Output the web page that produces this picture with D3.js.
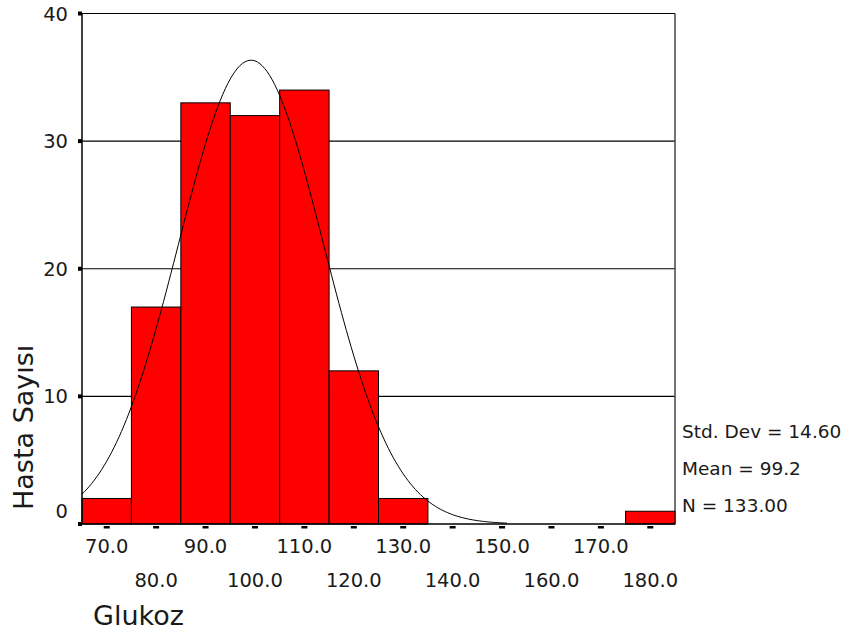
<!DOCTYPE html>
<html>
<head>
  <meta charset="utf-8">
  <script src="https://d3js.org/d3.v7.min.js"></script>
  <style type="text/css">
    body { margin: 0; background: #fff; }
    text { font-family: "DejaVu Sans", sans-serif; fill: #1a1a1a; }
  </style>
</head>
<body>
  <div id="chart"></div>
  <script type="text/javascript">
    // bin centres (width 10) and patient counts
    var binCenters = [70, 80, 90, 100, 110, 120, 130, 140, 150, 160, 170, 180];
    var counts = [2, 17, 33, 32, 34, 12, 2, 0, 0, 0, 0, 1];
    var yTicks = [0, 10, 20, 30, 40];
    var xTickLabels = ['70.0', '80.0', '90.0', '100.0', '110.0', '120.0',
                       '130.0', '140.0', '150.0', '160.0', '170.0', '180.0'];
    var statLines = ['Std. Dev = 14.60', 'Mean = 99.2', 'N = 133.00'];
    var mean = 99.2, sd = 14.6, n = 133, binWidth = 10;

    var width = 846, height = 632;
    var plotLeft = 82, plotRight = 675, plotTop = 13.5, plotBottom = 524;

    var svg = d3.select('#chart').append('svg')
        .attr('width', width)
        .attr('height', height);

    var x = d3.scaleLinear().domain([65, 185]).range([plotLeft, plotRight]);
    var y = d3.scaleLinear().domain([0, 40]).range([plotBottom, plotTop]);

    // gridlines
    svg.selectAll('.grid')
        .data(yTicks.filter(function(d) { return d > 0; }))
        .enter().append('line')
        .attr('x1', plotLeft).attr('x2', plotRight)
        .attr('y1', function(d) { return y(d); })
        .attr('y2', function(d) { return y(d); })
        .attr('stroke', '#000')
        .attr('stroke-width', 1.2);

    // right frame
    svg.append('line')
        .attr('x1', plotRight).attr('x2', plotRight)
        .attr('y1', plotTop).attr('y2', plotBottom)
        .attr('stroke', '#444').attr('stroke-width', 1.5);

    // bars
    svg.selectAll('.bar')
        .data(binCenters.map(function(c, i) { return {c: c, v: counts[i]}; })
          .filter(function(d) { return d.v > 0; }))
        .enter().append('rect')
        .attr('x', function(d) { return x(d.c - binWidth / 2); })
        .attr('width', function(d) { return x(d.c + binWidth / 2) - x(d.c - binWidth / 2); })
        .attr('y', function(d) { return y(d.v); })
        .attr('height', function(d) { return y(0) - y(d.v); })
        .attr('fill', '#ff0000')
        .attr('stroke', '#000')
        .attr('stroke-width', 1);

    // normal curve from the shown mean / sd / N
    var curvePts = d3.range(65, 151.01, 0.5).map(function(v) {
      var z = (v - mean) / sd;
      return [v, n * binWidth * Math.exp(-0.5 * z * z) / (sd * Math.sqrt(2 * Math.PI))];
    });
    svg.append('path')
        .datum(curvePts)
        .attr('fill', 'none')
        .attr('stroke', '#000')
        .attr('stroke-width', 1)
        .attr('d', d3.line()
          .x(function(d) { return x(d[0]); })
          .y(function(d) { return y(d[1]); }));

    // axes lines
    svg.append('line')
        .attr('x1', plotLeft).attr('x2', plotLeft)
        .attr('y1', plotTop).attr('y2', plotBottom)
        .attr('stroke', '#000').attr('stroke-width', 1.5);
    svg.append('line')
        .attr('x1', plotLeft).attr('x2', plotRight)
        .attr('y1', plotBottom).attr('y2', plotBottom)
        .attr('stroke', '#000').attr('stroke-width', 1.5);

    // y ticks (square markers) and labels
    svg.selectAll('.ytick')
        .data(yTicks)
        .enter().append('rect')
        .attr('x', plotLeft - 4).attr('width', 4)
        .attr('y', function(d) { return y(d) - 2; }).attr('height', 4)
        .attr('fill', '#000');
    svg.selectAll('.ylab')
        .data(yTicks)
        .enter().append('text')
        .attr('x', 68)
        .attr('y', function(d) { return d === 0 ? y(d) - 6 : y(d) + 7; })
        .attr('text-anchor', 'end')
        .style('font-size', '19.5px')
        .text(function(d) { return d; });

    // x ticks (small dashes) and staggered labels
    svg.selectAll('.xtick')
        .data(binCenters)
        .enter().append('rect')
        .attr('x', function(d) { return x(d) - 3; }).attr('width', 6)
        .attr('y', plotBottom + 2).attr('height', 2.5)
        .attr('fill', '#000');
    svg.selectAll('.xlab')
        .data(binCenters)
        .enter().append('text')
        .attr('x', function(d) { return x(d); })
        .attr('y', function(d, i) { return i % 2 === 0 ? 553 : 587; })
        .attr('text-anchor', 'middle')
        .style('font-size', '19.5px')
        .text(function(d, i) { return xTickLabels[i]; });

    // stats
    svg.selectAll('.stat')
        .data(statLines)
        .enter().append('text')
        .attr('x', 682)
        .attr('y', function(d, i) { return 438 + i * 37; })
        .style('font-size', '18.5px')
        .text(function(d) { return d; });

    // axis titles
    svg.append('text')
        .attr('x', 93).attr('y', 625)
        .style('font-size', '27px')
        .text('Glukoz');
    svg.append('text')
        .attr('transform', 'translate(33,' + 510 + ') rotate(-90)')
        .style('font-size', '27px')
        .text('Hasta Sayısı');
  </script>
</body>
</html>
